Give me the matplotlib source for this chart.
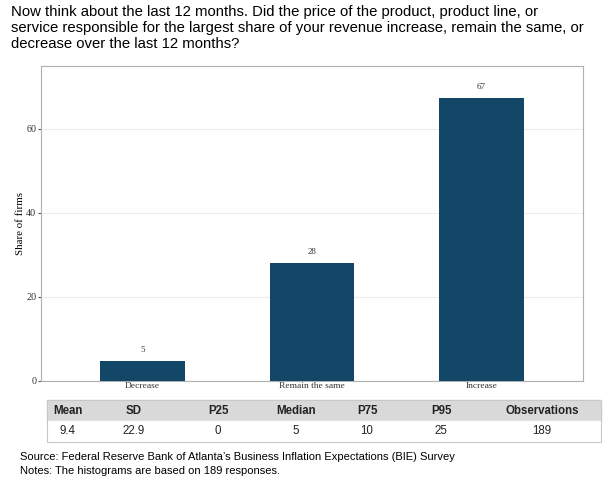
import matplotlib.pyplot as plt

categories = ["Decrease", "Remain the same", "Increase"]
shares = [4.8, 28.1, 67.3]
bar_labels = ["5", "28", "67"]

stat_names = ["Mean", "SD", "P25", "Median", "P75", "P95", "Observations"]
stat_values = ["9.4", "22.9", "0", "5", "10", "25", "189"]

title = ("Now think about the last 12 months. Did the price of the product, product line, or\n"
         "service responsible for the largest share of your revenue increase, remain the same, or\n"
         "decrease over the last 12 months?")
source = "Source: Federal Reserve Bank of Atlanta\u2019s Business Inflation Expectations (BIE) Survey"
notes = "Notes: The histograms are based on 189 responses."

W, H = 611, 483
fig = plt.figure(figsize=(W / 100, H / 100), dpi=100)
fig.patch.set_facecolor("white")

# title
fig.text(11 / W, 1 - 5 / H, title, ha="left", va="top", fontsize=10.7,
         family="Liberation Sans", linespacing=1.18)

# bar chart
ax = fig.add_axes([41 / W, 1 - 381 / H, 542 / W, 315 / H])
x = range(len(categories))
ax.bar(x, shares, width=0.5, color="#134768", zorder=3)
for i, (v, lab) in enumerate(zip(shares, bar_labels)):
    ax.text(i, v + 1.7, lab, ha="center", va="bottom", fontsize=6.5,
            family="Liberation Serif", color="#333333")
ax.set_xlim(-0.6, 2.6)
ax.set_ylim(0, 75)
ax.set_yticks([0, 20, 40, 60])
ax.set_xticks(list(x))
ax.set_xticklabels(categories)
ax.yaxis.grid(True, color="#ececec", linewidth=0.8, zorder=0)
for s in ax.spines.values():
    s.set_color("#b0b0b0")
ax.tick_params(axis="both", length=2.5, width=0.8, color="#555555", pad=1,
               labelsize=7.3, labelcolor="#333333")
for t in ax.get_xticklabels() + ax.get_yticklabels():
    t.set_family("Liberation Serif")
ax.tick_params(axis="x", length=0, pad=1, labelsize=6.8)
ax.set_ylabel("Share of firms", family="Liberation Serif", fontsize=7.8, labelpad=1)

# stats table
tab_ax = fig.add_axes([47 / W, 1 - 442 / H, 554 / W, 42 / H])
tab_ax.set_axis_off()
col_px = [42, 90, 78, 78, 64, 84, 118]
col_w = [c / sum(col_px) for c in col_px]
tbl = tab_ax.table(cellText=[stat_values], colLabels=stat_names,
                   cellLoc="center", colWidths=col_w, bbox=[0, 0, 1, 1])
tbl.auto_set_font_size(False)
for (r, c), cell in tbl.get_celld().items():
    cell.set_text_props(family="Liberation Sans", fontsize=8.3, color="#222222")
    if r == 0:
        cell.set_facecolor("#d9d9d9")
        cell.set_edgecolor("#d9d9d9")
        cell.set_text_props(fontweight="bold", family="Liberation Sans", fontsize=8.3)
    else:
        cell.set_facecolor("white")
        cell.set_edgecolor("white")
# outline around the table
tab_ax.add_patch(plt.Rectangle((0, 0), 1, 1, transform=tab_ax.transAxes, fill=False,
                               edgecolor="#c8c8c8", linewidth=0.8, clip_on=False))

fig.text(20 / W, 1 - 457 / H, source, ha="left", va="center", fontsize=8,
         family="Liberation Sans")
fig.text(20 / W, 1 - 471 / H, notes, ha="left", va="center", fontsize=8,
         family="Liberation Sans")

fig.savefig("out.png", dpi=100)
